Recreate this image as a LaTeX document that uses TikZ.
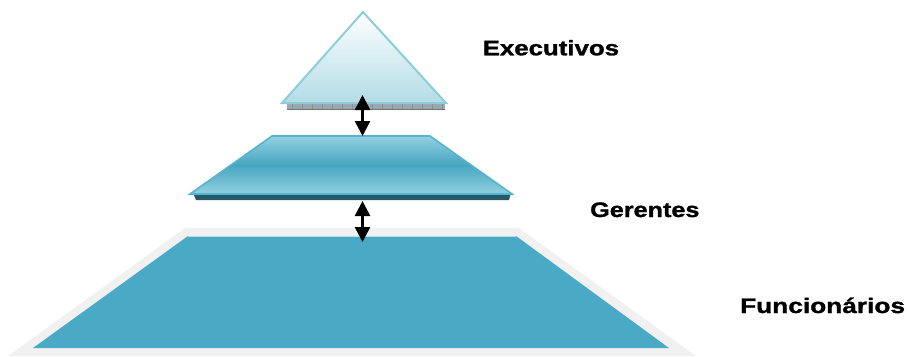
\documentclass[tikz,border=0pt]{standalone}
\usepackage{fontspec}
\setmainfont{Liberation Sans}
\newfontfamily\lblfont[FakeBold=1.2]{Liberation Sans Bold}
\usetikzlibrary{arrows.meta}
\definecolor{tribord}{HTML}{8FCCDA}
\definecolor{trilow}{HTML}{B2DCE6}
\definecolor{midbord}{HTML}{58B3CC}
\definecolor{midlight}{HTML}{93D0E0}
\definecolor{midmain}{HTML}{46A6C2}
\definecolor{midshadow}{HTML}{25596A}
\definecolor{botfill}{HTML}{4AAAC5}
\definecolor{botband}{HTML}{F1F1F1}
\definecolor{stripfill}{HTML}{98A9AE}
\tikzset{
  lbl/.style={anchor=base west, inner sep=0pt, font=\fontsize{21}{25}\selectfont\lblfont},
  conn/.style={line width=2.6pt, {Triangle[width=15pt,length=15pt]}-{Triangle[width=15pt,length=15pt]}}
}
\begin{document}
\begin{tikzpicture}[x=1pt,y=-1pt]
\useasboundingbox (0,0) rectangle (910,356);
% bottom level
\fill[botband] (185,228) -- (519,228) -- (696,356) -- (8,356) -- cycle;
\fill[botfill] (188,236) -- (516,236) -- (669,348) -- (33,348) -- cycle;
\draw[white!60!botfill, line width=0.8pt] (188,236.5) -- (516,236.5);
% middle level
\fill[midshadow] (193,193) -- (511,193) -- (509,200) -- (196,200) -- cycle;
\shade[top color=midlight, bottom color=midlight, middle color=midmain]
  (272,136) -- (430,136) -- (512,194) -- (190,194) -- cycle;
\draw[midbord, line width=1.6pt, line join=miter] (272,136) -- (430,136) -- (512,194) -- (190,194) -- cycle;
% top level
\fill[stripfill] (287,104) -- (445,104) -- (445,109) -- (287,109) -- cycle;
\foreach \i in {292,302,...,442} \draw[black!45, line width=0.6pt] (\i,104) -- (\i,109);
\draw[black!55, line width=0.8pt] (287,109) -- (445,109);
\shade[top color=white, bottom color=trilow]
  (363,12) -- (446,103) -- (282,103) -- cycle;
\draw[tribord, line width=2pt, line join=miter] (363,12) -- (446,103) -- (282,103) -- cycle;
% connectors
\coordinate (t1) at (362.5,95);
\coordinate (m1) at (362.5,136);
\coordinate (m2) at (362.5,201);
\coordinate (b1) at (362.5,242);
\draw[conn] (t1) -- (m1);
\draw[conn] (m2) -- (b1);
% labels
\node[lbl] (exe) at (482.5,55.3) {\scalebox{1.23}[1]{Executivos}};
\node[lbl] (ger) at (590,217) {\scalebox{1.2}[1]{Gerentes}};
\node[lbl] (fun) at (740,313) {\scalebox{1.25}[1]{Funcionários}};
\end{tikzpicture}
\end{document}
